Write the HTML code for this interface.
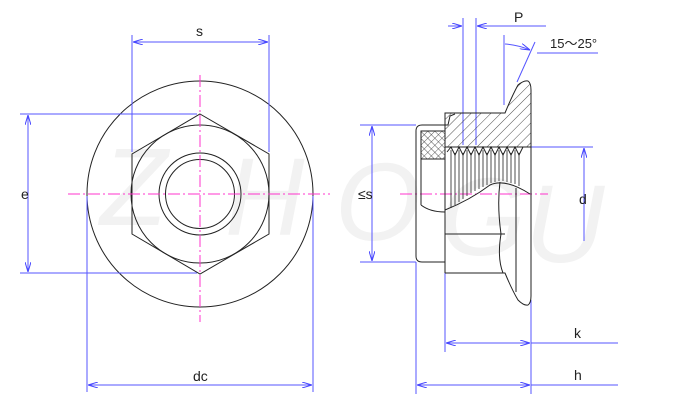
<!DOCTYPE html>
<html><head><style>html,body{margin:0;padding:0;background:#fff}svg{display:block}</style></head><body>
<svg width="684" height="404" viewBox="0 0 684 404" xmlns="http://www.w3.org/2000/svg" font-family="Liberation Sans, sans-serif">
<defs>
<pattern id="hatch" width="7" height="7" patternUnits="userSpaceOnUse" patternTransform="rotate(45)"><line x1="0" y1="0" x2="0" y2="7" stroke="#222" stroke-width="0.8"/></pattern>
<pattern id="cross" width="5" height="5" patternUnits="userSpaceOnUse" patternTransform="rotate(45)"><path d="M0 0V5M0 0H5" stroke="#222" stroke-width="0.7"/></pattern>
<marker id="a" viewBox="0 0 10 6" refX="10" refY="3" markerWidth="10" markerHeight="6" orient="auto-start-reverse"><path d="M0 0L10 3L0 6" fill="none" stroke="#44f" stroke-width="1"/></marker>
</defs>
<g fill="#f2f2f2" font-size="110" font-style="italic">
<text x="100" y="225">Z</text><text x="225" y="235">H</text><text x="335" y="240">O</text><text x="440" y="255">G</text><text x="525" y="262">U</text>
</g>
<!-- front view -->
<g fill="none" stroke="#222" stroke-width="1">
<circle cx="200" cy="194" r="113"/>
<polygon points="200,114 269,154 269,234 200,274 132,234 132,154"/>
<circle cx="200" cy="194" r="69"/>
<circle cx="200" cy="194" r="41"/>
<circle cx="200" cy="194" r="34.5"/>
</g>
<g stroke="#f3c" stroke-width="1" stroke-dasharray="12,3,2,3">
<line x1="68" y1="194" x2="330" y2="194"/><line x1="200" y1="75" x2="200" y2="322"/>
<line x1="400" y1="194" x2="548" y2="194"/>
</g>
<g stroke="#55f" stroke-width="1" fill="none">
<line x1="132" y1="35" x2="132" y2="152"/><line x1="269" y1="35" x2="269" y2="152"/>
<line x1="133" y1="42" x2="268" y2="42" marker-start="url(#a)" marker-end="url(#a)"/>
<line x1="20" y1="114" x2="197" y2="114"/><line x1="20" y1="273" x2="197" y2="273"/>
<line x1="28" y1="115" x2="28" y2="272" marker-start="url(#a)" marker-end="url(#a)"/>
<line x1="87" y1="196" x2="87" y2="392"/><line x1="313" y1="196" x2="313" y2="392"/>
<line x1="88" y1="385" x2="312" y2="385" marker-start="url(#a)" marker-end="url(#a)"/>
<line x1="360" y1="125" x2="416" y2="125"/><line x1="360" y1="262" x2="416" y2="262"/>
<line x1="372" y1="126" x2="372" y2="261" marker-start="url(#a)" marker-end="url(#a)"/>
<line x1="416" y1="262" x2="416" y2="394"/><line x1="445" y1="262" x2="445" y2="352"/><line x1="531" y1="300" x2="531" y2="394"/>
<line x1="446" y1="343" x2="530" y2="343" marker-start="url(#a)" marker-end="url(#a)"/><line x1="531" y1="343" x2="618" y2="343"/>
<line x1="417" y1="385" x2="530" y2="385" marker-start="url(#a)" marker-end="url(#a)"/><line x1="531" y1="385" x2="618" y2="385"/>
<line x1="520" y1="147" x2="593" y2="147"/>
<line x1="584" y1="148" x2="584" y2="241" marker-start="url(#a)"/>
<line x1="463" y1="18" x2="463" y2="145"/><line x1="476" y1="18" x2="476" y2="145"/>
<line x1="448" y1="26" x2="462" y2="26" marker-end="url(#a)"/><line x1="546" y1="26" x2="477" y2="26" marker-end="url(#a)"/>
<line x1="504" y1="35" x2="504" y2="105"/>
<line x1="535" y1="42" x2="517" y2="82"/>
<line x1="537" y1="53" x2="598" y2="53"/>
<path d="M505 44 Q518 45 530 50" marker-end="url(#a)"/>
</g>
<g stroke="#222" stroke-width="1">
<path d="M445 113 L505 113 Q512 96 518 85 Q524 80 528 81 Q531 83 531 90 L531 147 L445 147 Z" fill="url(#hatch)"/>
<rect x="421" y="131" width="24" height="28" fill="url(#cross)"/>
<path d="M422 125 L448 125 L450 116 L455 114" fill="none"/>
<path d="M422 125 Q416 125 416 131 L416 256 Q416 262 422 262 L445 262" fill="none"/>
<line x1="421" y1="131" x2="421" y2="205"/>
<path d="M421 205 Q430 212 445 212" fill="none"/>
<line x1="445" y1="131" x2="445" y2="273"/>
<path d="M445 273 L505 273 Q512 290 518 300 Q524 306 528 305 Q531 303 531 296 L531 147" fill="none"/>
<path d="M447 152 L451 147 L455 155 L459 147 L463 155 L467 147 L471 155 L475 147 L479 155 L483 147 L487 155 L491 147 L495 155 L499 147 L503 155 L507 147 L511 155 L515 147 L519 155 L523 147" fill="none"/>
<g fill="none" stroke-width="0.8">
<path d="M451 150 L451 208 M455 153 L455 205 M459 150 L459 202 M463 153 L463 199 M467 150 L467 196 M471 153 L471 193 M475 150 L475 191 M479 153 L479 189 M483 150 L483 187 M487 153 L487 185 M491 150 L491 183 M495 153 L495 182 M499 150 L499 181 M503 153 L503 181 M507 150 L507 182 M511 153 L511 183 M515 150 L515 184 M519 153 L519 186"/>
</g>
<path d="M445 210 Q470 200 490 185 Q505 178 530 194" fill="none"/>
<path d="M445 234 L505 234" fill="none"/>
<path d="M500 182 Q497 205 501 234 Q497 258 503 273" fill="none"/>
<line x1="516" y1="188" x2="516" y2="292"/>
</g>
<g fill="#222" font-size="14">
<text x="196" y="36">s</text>
<text x="21" y="199">e</text>
<text x="193" y="381">dc</text>
<text x="358" y="199">≤s</text>
<text x="514" y="22">P</text>
<text x="550" y="48" font-size="13">15～25°</text>
<text x="579" y="204">d</text>
<text x="574" y="338">k</text>
<text x="574" y="380">h</text>
</g>
</svg>
</body></html>
